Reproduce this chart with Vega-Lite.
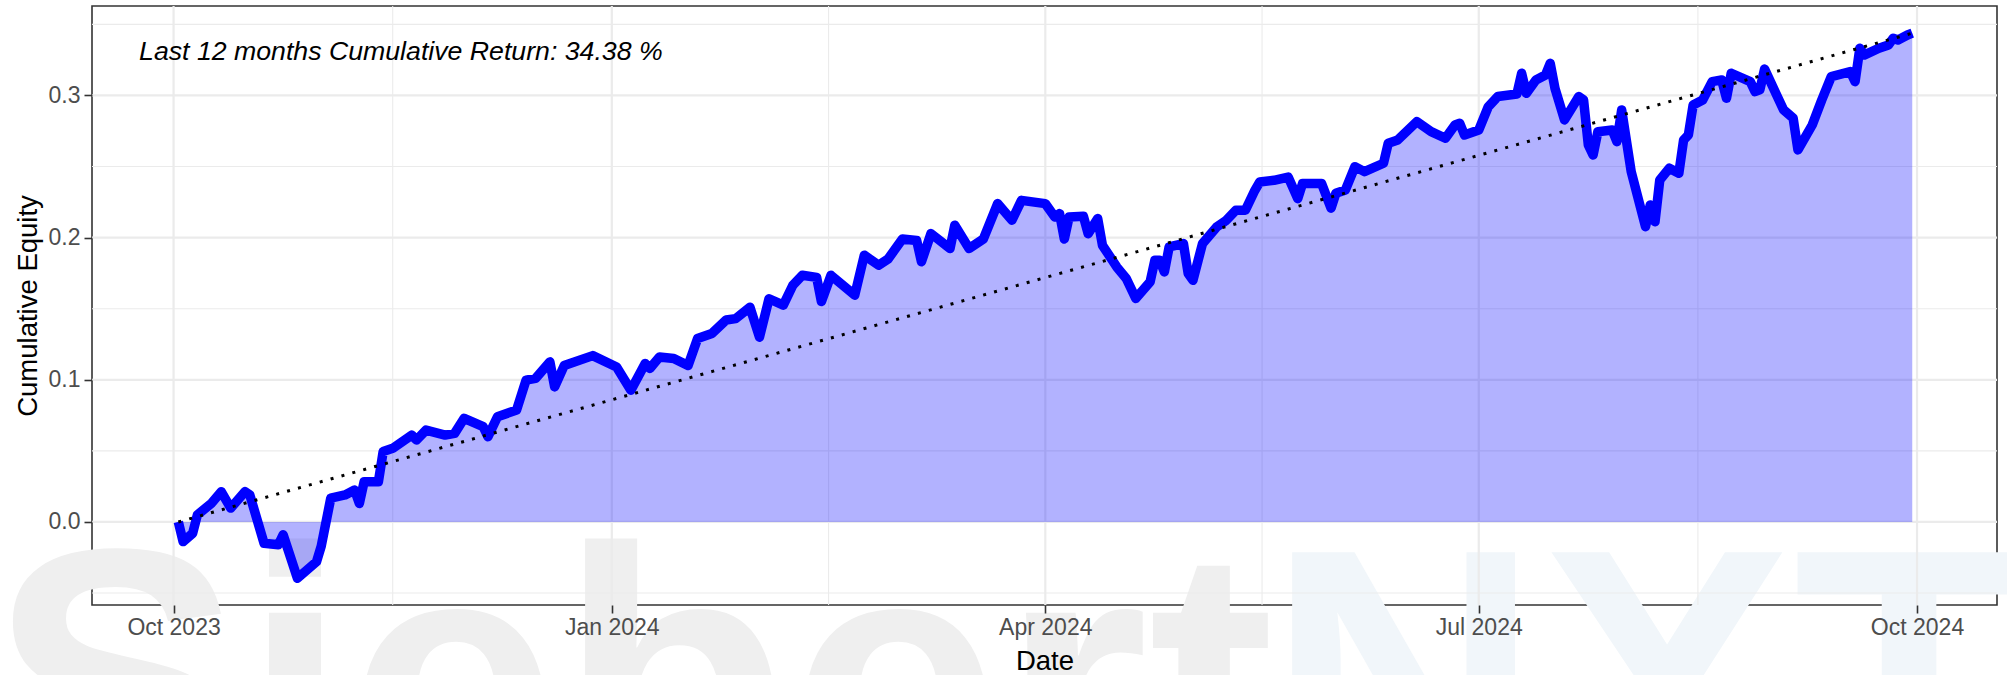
{
  "$schema": "https://vega.github.io/schema/vega-lite/v6.json",
  "autosize": {"type": "none"},
  "width": 1905,
  "height": 599,
  "padding": {"left": 92, "top": 6, "right": 10, "bottom": 70},
  "background": "white",
  "config": {
    "view": {"stroke": "#333333", "strokeWidth": 1.6},
    "axis": {
      "labelFont": "Liberation Sans", "labelFontSize": 23, "labelColor": "#4D4D4D",
      "titleFont": "Liberation Sans", "titleFontSize": 27.5, "titleColor": "#000000", "titleFontWeight": "normal",
      "tickColor": "#333333", "tickWidth": 1.6, "tickSize": 8,
      "domain": false, "grid": false
    }
  },
  "datasets": {
    "equity": [
      {"date": "2023-10-02", "equity": 0.0},
      {"date": "2023-10-03", "equity": -0.0138},
      {"date": "2023-10-05", "equity": -0.008},
      {"date": "2023-10-06", "equity": 0.005},
      {"date": "2023-10-09", "equity": 0.0133},
      {"date": "2023-10-11", "equity": 0.0213},
      {"date": "2023-10-13", "equity": 0.0098},
      {"date": "2023-10-16", "equity": 0.0213},
      {"date": "2023-10-17", "equity": 0.019},
      {"date": "2023-10-20", "equity": -0.015},
      {"date": "2023-10-23", "equity": -0.016},
      {"date": "2023-10-24", "equity": -0.009},
      {"date": "2023-10-27", "equity": -0.0396},
      {"date": "2023-10-31", "equity": -0.028},
      {"date": "2023-11-01", "equity": -0.017},
      {"date": "2023-11-03", "equity": 0.0167},
      {"date": "2023-11-06", "equity": 0.019},
      {"date": "2023-11-08", "equity": 0.0225},
      {"date": "2023-11-09", "equity": 0.013},
      {"date": "2023-11-10", "equity": 0.0283},
      {"date": "2023-11-13", "equity": 0.0283},
      {"date": "2023-11-14", "equity": 0.0495},
      {"date": "2023-11-16", "equity": 0.0518},
      {"date": "2023-11-20", "equity": 0.0611},
      {"date": "2023-11-21", "equity": 0.0576},
      {"date": "2023-11-23", "equity": 0.0646},
      {"date": "2023-11-27", "equity": 0.0611},
      {"date": "2023-11-29", "equity": 0.0623},
      {"date": "2023-12-01", "equity": 0.0729},
      {"date": "2023-12-05", "equity": 0.067},
      {"date": "2023-12-06", "equity": 0.060},
      {"date": "2023-12-08", "equity": 0.074},
      {"date": "2023-12-12", "equity": 0.0787},
      {"date": "2023-12-14", "equity": 0.0998},
      {"date": "2023-12-16", "equity": 0.101},
      {"date": "2023-12-19", "equity": 0.1126},
      {"date": "2023-12-20", "equity": 0.095},
      {"date": "2023-12-22", "equity": 0.110},
      {"date": "2023-12-28", "equity": 0.117},
      {"date": "2024-01-02", "equity": 0.109},
      {"date": "2024-01-05", "equity": 0.0927},
      {"date": "2024-01-08", "equity": 0.1115},
      {"date": "2024-01-09", "equity": 0.108},
      {"date": "2024-01-11", "equity": 0.116},
      {"date": "2024-01-14", "equity": 0.115},
      {"date": "2024-01-17", "equity": 0.110},
      {"date": "2024-01-19", "equity": 0.129},
      {"date": "2024-01-22", "equity": 0.1326},
      {"date": "2024-01-25", "equity": 0.142},
      {"date": "2024-01-27", "equity": 0.143},
      {"date": "2024-01-30", "equity": 0.151},
      {"date": "2024-02-01", "equity": 0.130},
      {"date": "2024-02-03", "equity": 0.157},
      {"date": "2024-02-06", "equity": 0.1525},
      {"date": "2024-02-08", "equity": 0.1665},
      {"date": "2024-02-10", "equity": 0.1735},
      {"date": "2024-02-13", "equity": 0.172},
      {"date": "2024-02-14", "equity": 0.155},
      {"date": "2024-02-16", "equity": 0.1735},
      {"date": "2024-02-21", "equity": 0.1595},
      {"date": "2024-02-23", "equity": 0.1876},
      {"date": "2024-02-26", "equity": 0.1806},
      {"date": "2024-02-28", "equity": 0.185},
      {"date": "2024-03-02", "equity": 0.199},
      {"date": "2024-03-05", "equity": 0.198},
      {"date": "2024-03-06", "equity": 0.183},
      {"date": "2024-03-08", "equity": 0.2028},
      {"date": "2024-03-12", "equity": 0.1923},
      {"date": "2024-03-13", "equity": 0.2087},
      {"date": "2024-03-16", "equity": 0.1923},
      {"date": "2024-03-19", "equity": 0.199},
      {"date": "2024-03-22", "equity": 0.2239},
      {"date": "2024-03-25", "equity": 0.2122},
      {"date": "2024-03-27", "equity": 0.2262},
      {"date": "2024-04-01", "equity": 0.2239},
      {"date": "2024-04-03", "equity": 0.2145},
      {"date": "2024-04-04", "equity": 0.2169},
      {"date": "2024-04-05", "equity": 0.199},
      {"date": "2024-04-06", "equity": 0.2145},
      {"date": "2024-04-09", "equity": 0.215},
      {"date": "2024-04-10", "equity": 0.2028},
      {"date": "2024-04-12", "equity": 0.2134},
      {"date": "2024-04-13", "equity": 0.1946},
      {"date": "2024-04-16", "equity": 0.1794},
      {"date": "2024-04-18", "equity": 0.1712},
      {"date": "2024-04-20", "equity": 0.1572},
      {"date": "2024-04-23", "equity": 0.1688},
      {"date": "2024-04-24", "equity": 0.1841},
      {"date": "2024-04-25", "equity": 0.1841},
      {"date": "2024-04-26", "equity": 0.1759},
      {"date": "2024-04-27", "equity": 0.1934},
      {"date": "2024-04-30", "equity": 0.1958},
      {"date": "2024-05-01", "equity": 0.1747},
      {"date": "2024-05-02", "equity": 0.170},
      {"date": "2024-05-04", "equity": 0.1958},
      {"date": "2024-05-07", "equity": 0.2075},
      {"date": "2024-05-09", "equity": 0.2122},
      {"date": "2024-05-11", "equity": 0.2192},
      {"date": "2024-05-13", "equity": 0.2192},
      {"date": "2024-05-15", "equity": 0.2333},
      {"date": "2024-05-16", "equity": 0.2391},
      {"date": "2024-05-19", "equity": 0.2403},
      {"date": "2024-05-22", "equity": 0.2426},
      {"date": "2024-05-24", "equity": 0.2274},
      {"date": "2024-05-25", "equity": 0.238},
      {"date": "2024-05-29", "equity": 0.238},
      {"date": "2024-05-31", "equity": 0.2207},
      {"date": "2024-06-01", "equity": 0.2312},
      {"date": "2024-06-03", "equity": 0.2335},
      {"date": "2024-06-05", "equity": 0.2499},
      {"date": "2024-06-07", "equity": 0.2464},
      {"date": "2024-06-11", "equity": 0.2523},
      {"date": "2024-06-12", "equity": 0.2664},
      {"date": "2024-06-14", "equity": 0.2687},
      {"date": "2024-06-18", "equity": 0.2816},
      {"date": "2024-06-21", "equity": 0.2745},
      {"date": "2024-06-24", "equity": 0.2699},
      {"date": "2024-06-26", "equity": 0.2792},
      {"date": "2024-06-27", "equity": 0.2804},
      {"date": "2024-06-28", "equity": 0.2722},
      {"date": "2024-07-01", "equity": 0.2757},
      {"date": "2024-07-03", "equity": 0.2921},
      {"date": "2024-07-05", "equity": 0.2992},
      {"date": "2024-07-09", "equity": 0.301},
      {"date": "2024-07-10", "equity": 0.3156},
      {"date": "2024-07-11", "equity": 0.3015},
      {"date": "2024-07-13", "equity": 0.3109},
      {"date": "2024-07-15", "equity": 0.3144},
      {"date": "2024-07-16", "equity": 0.3226},
      {"date": "2024-07-17", "equity": 0.305},
      {"date": "2024-07-19", "equity": 0.2828},
      {"date": "2024-07-22", "equity": 0.2992},
      {"date": "2024-07-23", "equity": 0.2968},
      {"date": "2024-07-24", "equity": 0.2652},
      {"date": "2024-07-25", "equity": 0.2581},
      {"date": "2024-07-26", "equity": 0.2745},
      {"date": "2024-07-29", "equity": 0.2757},
      {"date": "2024-07-30", "equity": 0.2675},
      {"date": "2024-07-31", "equity": 0.2898},
      {"date": "2024-08-02", "equity": 0.2464},
      {"date": "2024-08-05", "equity": 0.2077},
      {"date": "2024-08-06", "equity": 0.223},
      {"date": "2024-08-07", "equity": 0.2112},
      {"date": "2024-08-08", "equity": 0.2406},
      {"date": "2024-08-10", "equity": 0.2488},
      {"date": "2024-08-12", "equity": 0.2453},
      {"date": "2024-08-13", "equity": 0.2687},
      {"date": "2024-08-14", "equity": 0.2722},
      {"date": "2024-08-15", "equity": 0.2933},
      {"date": "2024-08-17", "equity": 0.2968},
      {"date": "2024-08-19", "equity": 0.3097},
      {"date": "2024-08-21", "equity": 0.3109},
      {"date": "2024-08-22", "equity": 0.298},
      {"date": "2024-08-23", "equity": 0.3156},
      {"date": "2024-08-27", "equity": 0.3097},
      {"date": "2024-08-28", "equity": 0.3027},
      {"date": "2024-08-29", "equity": 0.3039},
      {"date": "2024-08-30", "equity": 0.3185},
      {"date": "2024-09-03", "equity": 0.2898},
      {"date": "2024-09-05", "equity": 0.284},
      {"date": "2024-09-06", "equity": 0.2617},
      {"date": "2024-09-09", "equity": 0.2792},
      {"date": "2024-09-11", "equity": 0.2968},
      {"date": "2024-09-13", "equity": 0.3132},
      {"date": "2024-09-17", "equity": 0.3167},
      {"date": "2024-09-18", "equity": 0.3097},
      {"date": "2024-09-19", "equity": 0.3332},
      {"date": "2024-09-20", "equity": 0.3285},
      {"date": "2024-09-23", "equity": 0.3332},
      {"date": "2024-09-25", "equity": 0.3355},
      {"date": "2024-09-26", "equity": 0.3402},
      {"date": "2024-09-27", "equity": 0.339},
      {"date": "2024-09-29", "equity": 0.3425},
      {"date": "2024-09-30", "equity": 0.3438}
    ],
    "trend": [
      {"date": "2023-10-02", "equity": 0.0},
      {"date": "2024-09-30", "equity": 0.3438}
    ],
    "ymajor": [{"v": 0.0}, {"v": 0.1}, {"v": 0.2}, {"v": 0.3}],
    "yminor": [{"v": -0.05}, {"v": 0.05}, {"v": 0.15}, {"v": 0.25}, {"v": 0.35}],
    "xmajor": [{"d": "2023-10-01"}, {"d": "2024-01-01"}, {"d": "2024-04-01"}, {"d": "2024-07-01"}, {"d": "2024-10-01"}],
    "xminor": [{"d": "2023-11-16T00:00:00Z"}, {"d": "2024-02-15T12:00:00Z"}, {"d": "2024-05-16T12:00:00Z"}, {"d": "2024-08-16T00:00:00Z"}]
  },
  "layer": [
    {
      "data": {"values": [{}]},
      "mark": {"type": "text", "text": "Siebert", "font": "Liberation Sans", "fontWeight": "bold", "fontSize": 379, "color": "#EFEFEF", "align": "left", "baseline": "alphabetic"},
      "encoding": {
        "x": {"datum": {"year": 2023, "month": 8, "date": 23, "hours": 10, "utc": true}, "type": "temporal"},
        "y": {"datum": -0.2047, "type": "quantitative"}
      }
    },
    {
      "data": {"values": [{}]},
      "mark": {"type": "text", "text": "NXT", "font": "Liberation Sans", "fontWeight": "bold", "fontSize": 379, "color": "#F1F6FA", "align": "left", "baseline": "alphabetic"},
      "encoding": {
        "x": {"datum": {"year": 2024, "month": 5, "date": 17, "hours": 12, "utc": true}, "type": "temporal"},
        "y": {"datum": -0.2047, "type": "quantitative"}
      }
    },
    {
      "data": {"name": "yminor"},
      "mark": {"type": "rule", "color": "#EBEBEB", "strokeWidth": 1.1},
      "encoding": {"y": {"field": "v", "type": "quantitative"}}
    },
    {
      "data": {"name": "xminor"},
      "mark": {"type": "rule", "color": "#EBEBEB", "strokeWidth": 1.1},
      "encoding": {"x": {"field": "d", "type": "temporal"}}
    },
    {
      "data": {"name": "ymajor"},
      "mark": {"type": "rule", "color": "#EBEBEB", "strokeWidth": 2.2},
      "encoding": {"y": {"field": "v", "type": "quantitative"}}
    },
    {
      "data": {"name": "xmajor"},
      "mark": {"type": "rule", "color": "#EBEBEB", "strokeWidth": 2.2},
      "encoding": {"x": {"field": "d", "type": "temporal"}}
    },
    {
      "data": {"name": "equity"},
      "mark": {"type": "area", "color": "#0000FF", "opacity": 0.3},
      "encoding": {
        "x": {
          "field": "date", "type": "temporal",
          "scale": {"type": "utc", "domain": [{"year": 2023, "month": 9, "date": 13, "hours": 21, "utc": true}, {"year": 2024, "month": 10, "date": 17, "hours": 19, "utc": true}]},
          "axis": {
            "zindex": 2,
            "title": "Date", "format": "%b %Y", "labelPadding": 3, "titlePadding": 8, "labelFlush": false, "labelOverlap": false,
            "values": [
              {"year": 2023, "month": 10, "date": 1, "utc": true},
              {"year": 2024, "month": 1, "date": 1, "utc": true},
              {"year": 2024, "month": 4, "date": 1, "utc": true},
              {"year": 2024, "month": 7, "date": 1, "utc": true},
              {"year": 2024, "month": 10, "date": 1, "utc": true}
            ]
          }
        },
        "y": {
          "field": "equity", "type": "quantitative",
          "scale": {"domain": [-0.0584, 0.3629], "zero": false, "nice": false},
          "axis": {"zindex": 2, "title": "Cumulative Equity", "values": [0, 0.1, 0.2, 0.3], "format": ".1f", "labelPadding": 4, "titlePadding": 6}
        },
        "y2": {"datum": 0}
      }
    },
    {
      "data": {"name": "equity"},
      "mark": {"type": "line", "color": "#0000FF", "strokeWidth": 9.5, "strokeJoin": "round", "strokeCap": "butt"},
      "encoding": {
        "x": {"field": "date", "type": "temporal"},
        "y": {"field": "equity", "type": "quantitative"}
      }
    },
    {
      "data": {"name": "trend"},
      "mark": {"type": "line", "color": "#000000", "strokeWidth": 3, "strokeDash": [3, 8.3], "strokeCap": "butt"},
      "encoding": {
        "x": {"field": "date", "type": "temporal"},
        "y": {"field": "equity", "type": "quantitative"}
      }
    },
    {
      "data": {"values": [{}]},
      "mark": {"type": "text", "text": "Last 12 months Cumulative Return: 34.38 %", "font": "Liberation Sans", "fontStyle": "italic", "fontSize": 26.7, "color": "#000000", "align": "left", "baseline": "alphabetic"},
      "encoding": {
        "x": {"datum": {"year": 2023, "month": 9, "date": 23, "hours": 18, "utc": true}, "type": "temporal"},
        "y": {"datum": 0.325, "type": "quantitative"}
      }
    }
  ]
}
